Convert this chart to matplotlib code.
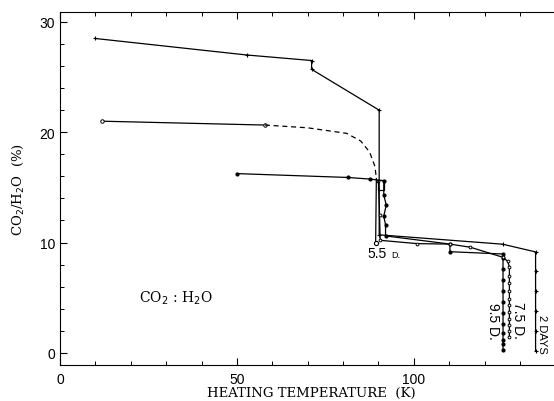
import numpy as np
import matplotlib
matplotlib.use('Agg')
import matplotlib.pyplot as plt

# 2 DAYS
a_x = [9.9, 52.8, 71.1, 71.1, 90.2, 90.2, 125.1, 134.4, 134.4, 134.4, 134.4, 134.4, 134.4]
a_y = [28.5, 27.0, 26.5, 25.7, 22.0, 10.7, 9.85, 9.15, 7.4, 5.6, 3.8, 2.0, 0.2]

# 5.5 D. (open circles, dashed part)
b_x = [11.9, 57.9]
b_y = [21.0, 20.65]
b_dash_x = [57.9, 70.0, 81.0, 85.0, 87.5, 89.0, 89.4]
b_dash_y = [20.65, 20.4, 19.9, 19.2, 18.2, 16.9, 15.8]
b_end_x = [89.4, 89.2]
b_end_y = [15.8, 10.0]

# 9.5 D.
c_x = [49.9, 81.3, 87.7, 91.5, 91.5, 92.2, 91.5, 92.0, 92.0, 110.2, 110.2, 125.2,
       125.2, 125.2, 125.2, 125.2, 125.2, 125.2, 125.2, 125.2, 125.2, 125.2, 125.2]
c_y = [16.25, 15.9, 15.75, 15.6, 14.3, 13.4, 12.4, 11.6, 10.6, 9.86, 9.17, 8.96,
       8.6, 7.6, 6.6, 5.6, 4.6, 3.6, 2.6, 1.8, 1.2, 0.8, 0.3]

# 7.5 D.
d_x = [90.0, 90.3, 90.5, 101.0, 110.2, 116.0, 125.2, 126.5, 127.0,
       127.0, 127.0, 127.0, 127.0, 127.0, 127.0, 127.0, 127.0, 127.0, 127.0]
d_y = [15.6, 12.5, 10.2, 9.9, 9.86, 9.57, 8.66, 8.3, 7.8,
       7.0, 6.3, 5.6, 4.9, 4.3, 3.7, 3.1, 2.5, 2.0, 1.4]

fig = plt.figure(figsize=(5.54, 4.02), dpi=100)
ax = fig.add_axes([0.1083, 0.0896, 0.907, 0.8781])

lw = 0.9
ax.plot(a_x, a_y, color='black', lw=lw, marker='+', ms=3, mew=0.8)
ax.plot(b_x, b_y, color='black', lw=lw, marker='o', ms=2.5, mfc='white', mew=0.7)
ax.plot(b_dash_x, b_dash_y, color='black', lw=lw, ls=(0, (4, 3)))
ax.plot(b_end_x, b_end_y, color='black', lw=lw)
ax.plot(b_end_x[-1:], b_end_y[-1:], 'o', color='black', ms=3, mfc='white', mew=0.8)
ax.plot(c_x, c_y, color='black', lw=lw, marker='o', ms=2)
ax.plot(d_x, d_y, color='black', lw=lw, marker='o', ms=2, mfc='white', mew=0.7)

# extra small box near 90 K
ax.plot([89.9, 91.6, 91.6, 89.9, 89.9], [15.7, 15.7, 14.8, 14.8, 15.7], color='black', lw=lw)

ax.set_xlim(0, 142)
ax.set_ylim(-1.1, 30.9)
ax.set_xticks([0, 50, 100])
ax.set_yticks([0, 10, 20, 30])
ax.set_xticks(np.arange(0, 141, 10), minor=True)
ax.set_yticks(np.arange(0, 31, 2), minor=True)
ax.tick_params(direction='in', top=True, right=False, length=5, width=0.8,
               labelsize=10)
ax.tick_params(axis='x', pad=5)
ax.tick_params(which='minor', direction='in', top=True, length=3, width=0.7)
for lab in ax.get_xticklabels() + ax.get_yticklabels():
    lab.set_family('Liberation Sans')
ax.spines['right'].set_visible(False)

serif = 'DejaVu Serif'
ax.set_xlabel('HEATING TEMPERATURE  (K)', family=serif, fontsize=9.5, labelpad=0)
ax.set_ylabel('CO$_2$/H$_2$O  (%)', family=serif, fontsize=9.5, labelpad=10)

ax.text(22.4, 5.0, 'CO$_2$ : H$_2$O', family=serif, fontsize=10, va='center')
ax.text(87.0, 9.05, '5.5', family='Liberation Sans', fontsize=10, va='center')
ax.text(93.5, 8.95, 'D.', family='Liberation Sans', fontsize=6.5, va='center')
ax.text(129.5, 3.0, '7.5 D.', family='Liberation Sans', fontsize=10, rotation=270,
        ha='center', va='center')
ax.text(122.3, 2.9, '9.5 D.', family='Liberation Sans', fontsize=10, rotation=270,
        ha='center', va='center')
ax.text(136.3, 1.8, '2 DAYS', family='Liberation Sans', fontsize=8, rotation=270,
        ha='center', va='center')

fig.savefig('out.png', dpi=100)
